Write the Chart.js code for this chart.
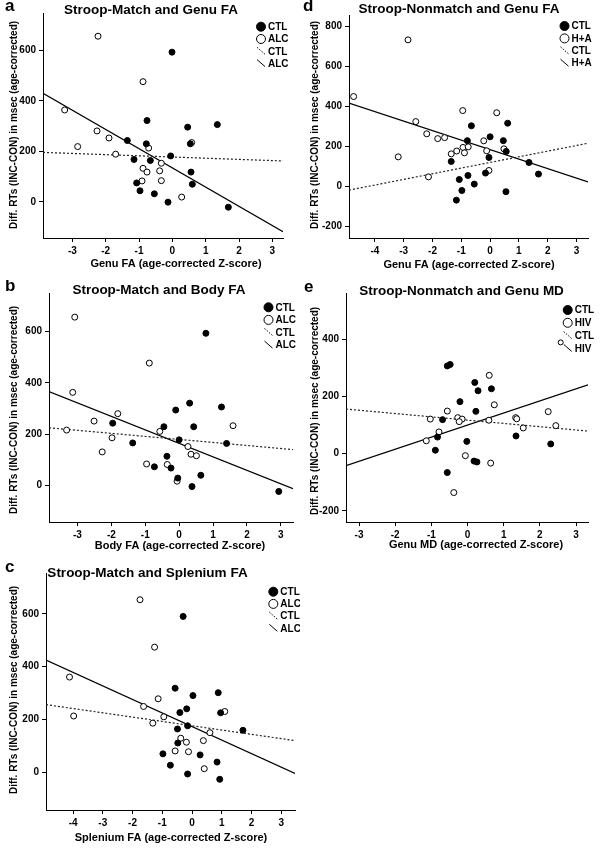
<!DOCTYPE html>
<html>
<head>
<meta charset="utf-8">
<script src="https://cdn.jsdelivr.net/npm/chart.js@4.4.0/dist/chart.umd.min.js"></script>
<style>
  body { margin: 0; background: #fff; }
  #page { position: relative; width: 600px; height: 850px; background: #fff; overflow: hidden; }
  canvas { position: absolute; }
</style>
</head>
<body>
<div id="page">
  <canvas id="chartA" width="300" height="280" style="left:0;top:0"></canvas>
  <canvas id="chartB" width="300" height="280" style="left:0;top:280px"></canvas>
  <canvas id="chartC" width="300" height="290" style="left:0;top:560px"></canvas>
  <canvas id="chartD" width="300" height="280" style="left:300px;top:0"></canvas>
  <canvas id="chartE" width="300" height="280" style="left:300px;top:280px"></canvas>
</div>
<script>
// ================================
// Datos
// ================================
const Y_TITLE = "Diff. RTs (INC-CON) in msec (age-corrected)";

// a: Stroop-Match and Genu FA
const aCtlX = [-0.01, -0.76, 0.46, 1.35, -1.35, -0.78, 0.54, -0.05, -1.15, -0.66, 0.56, -1.07, 0.60, -0.97, -0.54, -0.13, 1.68];
const aCtlY = [593, 322, 296, 306, 243, 230, 230, 182, 168, 164, 118, 75, 70, 44, 32, -1, -21];
const aAlcX = [-2.23, -0.88, -3.23, -2.26, -1.90, -2.84, -0.71, 0.58, -1.70, -0.33, -0.88, -0.76, -0.38, -0.91, -0.33, 0.28];
const aAlcY = [656, 476, 364, 281, 253, 219, 213, 235, 189, 153, 133, 118, 123, 83, 84, 19];
const aFitCtl = [[-3.88, 196], [3.32, 162]];
const aFitAlc = [[-3.88, 430], [3.32, -118]];

// b: Stroop-Match and Body FA
const bCtlX = [0.79, 0.31, 1.25, -0.10, -1.96, -0.45, 0.43, -1.37, 0.00, 1.40, -0.36, -0.24, -0.73, -0.04, 0.64, 0.38, 2.94];
const bCtlY = [593, 321, 306, 294, 243, 229, 229, 166, 178, 164, 114, 68, 73, 29, 40, -4, -23];
const bAlcX = [-0.88, -3.08, -3.14, -1.81, -2.51, -3.32, -1.98, -2.27, -0.57, 1.59, 0.26, 0.35, 0.51, -0.96, -0.35, -0.06];
const bAlcY = [477, 656, 363, 280, 251, 216, 186, 131, 211, 233, 152, 122, 116, 84, 82, 17];
const bFitCtl = [[-3.84, 225], [3.36, 140]];
const bFitAlc = [[-3.84, 366], [3.36, -12]];

// c: Stroop-Match and Splenium FA
const cCtlX = [-0.30, -0.57, 0.03, 0.88, -0.18, -0.41, 0.96, -0.15, 1.71, -0.49, -0.48, -0.98, 0.27, -0.73, 0.84, -0.15, 0.93];
const cCtlY = [590, 319, 291, 302, 241, 227, 226, 177, 160, 165, 112, 71, 67, 28, 40, -5, -25];
const cAlcX = [-1.75, -1.26, -4.12, -3.98, -1.14, -1.63, -0.95, -1.32, 1.10, 0.60, -0.38, -0.19, 0.38, -0.57, -0.12, 0.41];
const cAlcY = [653, 474, 361, 214, 279, 250, 211, 187, 231, 151, 130, 115, 121, 82, 79, 15];
const cFitCtl = [[-4.91, 257], [3.46, 121]];
const cFitAlc = [[-4.91, 425], [3.46, -3]];

// d: Stroop-Nonmatch and Genu FA
const dCtlX = [-0.65, 0.61, -0.79, 0.00, 0.46, 0.56, -0.04, -1.35, 1.35, 1.68, -0.77, -0.16, -1.07, -0.55, -0.98, 0.55, -1.17];
const dCtlY = [302, 315, 228, 247, 228, 174, 144, 124, 119, 61, 54, 66, 34, 11, -21, -27, -69];
const dHaX = [-2.85, -4.74, -0.95, 0.23, -2.58, -2.20, -1.82, -1.58, -0.22, -3.19, -2.14, -0.94, -0.76, -1.16, -0.89, -1.35, -0.12, 0.48, -0.04];
const dHaY = [731, 448, 378, 367, 323, 262, 238, 243, 227, 147, 47, 194, 197, 176, 167, 162, 177, 187, 79];
const dFitCtl = [[-4.90, -19], [3.40, 215]];
const dFitHa = [[-4.90, 415], [3.40, 22]];

// e: Stroop-Nonmatch and Genu MD
const eCtlX = [-0.56, -0.48, 0.20, 0.29, 0.66, -0.21, 0.23, -0.69, -0.83, -0.02, -0.89, 1.34, 2.30, 0.18, 0.26, -0.56];
const eCtlY = [307, 312, 249, 220, 227, 182, 148, 119, 58, 43, 12, 62, 34, -26, -29, -66];
const eHivX = [0.60, 0.74, -0.56, -1.03, -0.27, -0.15, -0.23, 0.59, 1.33, 1.36, 2.23, 2.44, 1.54, -0.79, -1.14, -0.06, 0.64, -0.38];
const eHivY = [274, 171, 149, 121, 126, 121, 112, 117, 126, 122, 147, 98, 90, 76, 45, -7, -33, -136];
const eFitCtl = [[-3.36, 156], [3.33, 79]];
const eFitHiv = [[-3.36, -42], [3.33, 241]];

// Ticks
const xTicks3 = [-3, -2, -1, 0, 1, 2, 3];
const xTicks4 = [-4, -3, -2, -1, 0, 1, 2, 3];
const yTicksMatch = [0, 200, 400, 600];
const yTicksD = [-200, 0, 200, 400, 600, 800];
const yTicksE = [-200, 0, 200, 400];

// ================================
// Utilidades
// ================================
const FONT = "Arial, 'Liberation Sans', sans-serif";
const toPts = (xs, ys) => xs.map((x, i) => ({ x, y: ys[i] }));
const toLine = pairs => pairs.map(([x, y]) => ({ x, y }));

// textos, leyenda, titulos
function decorPlugin(p) {
  return {
    id: "decor",
    afterDraw(chart) {
      const ctx = chart.ctx;
      ctx.save();
      ctx.fillStyle = "#000";
      ctx.strokeStyle = "#000";

      ctx.font = `bold 17px ${FONT}`;
      ctx.textAlign = "left";
      ctx.textBaseline = "alphabetic";
      ctx.fillText(p.letter, p.letterPos[0], p.letterPos[1]);

      ctx.font = `bold 13.5px ${FONT}`;
      ctx.textAlign = "center";
      ctx.textBaseline = "middle";
      ctx.fillText(p.title, p.titlePos[0], p.titlePos[1]);

      ctx.font = `bold 11px ${FONT}`;
      ctx.fillText(p.xTitle, p.xTitlePos[0], p.xTitlePos[1]);

      ctx.save();
      ctx.translate(p.yTitlePos[0], p.yTitlePos[1]);
      ctx.rotate(-Math.PI / 2);
      ctx.font = `bold 10px ${FONT}`;
      ctx.fillText(Y_TITLE, 0, 0);
      ctx.restore();

      // leyenda
      const [lx, ly, dy] = p.legendPos;
      ctx.font = `bold 10px ${FONT}`;
      ctx.textAlign = "left";
      ctx.lineWidth = 1;
      p.legend.forEach((label, i) => {
        const y = ly + i * dy;
        if (i === 0 || i === 1) {
          ctx.beginPath();
          ctx.arc(lx, y, 4.5, 0, Math.PI * 2);
          ctx.fillStyle = i === 0 ? "#000" : "#fff";
          ctx.fill();
          ctx.stroke();
        } else {
          ctx.beginPath();
          ctx.setLineDash(i === 2 ? [1.5, 1.5] : []);
          ctx.moveTo(lx - 4, y - 4);
          ctx.lineTo(lx + 4, y + 3);
          ctx.stroke();
          ctx.setLineDash([]);
          if (i === 3 && p.lineMarker) {
            ctx.beginPath();
            ctx.arc(lx - 7, y - 6, 2.5, 0, Math.PI * 2);
            ctx.fillStyle = "#fff";
            ctx.fill();
            ctx.stroke();
          }
        }
        ctx.fillStyle = "#000";
        ctx.fillText(label, lx + 7, y + 0.5);
      });
      ctx.restore();
    }
  };
}

// ================================
// Construccion de cada panel
// ================================
function buildPanel(canvasId, p) {
  const tickFont = { family: FONT, size: 10, weight: "bold" };
  new Chart(document.getElementById(canvasId), {
    type: "scatter",
    data: {
      datasets: [
        { data: p.ctl, pointRadius: 3, pointBackgroundColor: "#000", pointBorderColor: "#000", pointBorderWidth: 1 },
        { data: p.grp, pointRadius: 3, pointBackgroundColor: "#fff", pointBorderColor: "#000", pointBorderWidth: 1 },
        { data: p.fitCtl, showLine: true, pointRadius: 0, borderColor: "#222", borderWidth: 1.2, borderDash: [2, 2] },
        { data: p.fitGrp, showLine: true, pointRadius: 0, borderColor: "#000", borderWidth: 1.2 }
      ]
    },
    options: {
      responsive: false,
      animation: false,
      devicePixelRatio: 1,
      layout: { padding: { left: 0, top: p.area.top, right: p.area.right, bottom: 0 } },
      plugins: { legend: { display: false }, tooltip: { enabled: false } },
      scales: {
        x: {
          type: "linear",
          min: p.xRange[0], max: p.xRange[1],
          afterBuildTicks: s => { s.ticks = p.xTicks.map(v => ({ value: v })); },
          afterFit: s => { s.height = p.area.xh; },
          ticks: { font: tickFont, color: "#000", maxRotation: 0, autoSkip: false, padding: 3 },
          grid: { drawOnChartArea: false, drawTicks: true, tickLength: 4, color: "#000" },
          border: { display: true, color: "#000", width: 1 }
        },
        y: {
          type: "linear",
          min: p.yRange[0], max: p.yRange[1],
          afterBuildTicks: s => { s.ticks = p.yTicks.map(v => ({ value: v })); },
          afterFit: s => { s.width = p.area.left; },
          ticks: { font: tickFont, color: "#000", autoSkip: false, padding: 3 },
          grid: { drawOnChartArea: false, drawTicks: true, tickLength: 4, color: "#000" },
          border: { display: true, color: "#000", width: 1 }
        }
      }
    },
    plugins: [decorPlugin(p)]
  });
}

buildPanel("chartA", {
  ctl: toPts(aCtlX, aCtlY), grp: toPts(aAlcX, aAlcY),
  fitCtl: toLine(aFitCtl), fitGrp: toLine(aFitAlc),
  xRange: [-3.88, 3.32], yRange: [-143, 748], xTicks: xTicks3, yTicks: yTicksMatch,
  area: { left: 43, top: 13, right: 17, xh: 42 },
  letter: "a", letterPos: [5, 11], title: "Stroop-Match and Genu FA", titlePos: [151, 10],
  xTitle: "Genu FA (age-corrected Z-score)", xTitlePos: [176, 264], yTitlePos: [14, 125],
  legend: ["CTL", "ALC", "CTL", "ALC"], legendPos: [261, 26.7, 12.3]
});

buildPanel("chartB", {
  ctl: toPts(bCtlX, bCtlY), grp: toPts(bAlcX, bAlcY),
  fitCtl: toLine(bFitCtl), fitGrp: toLine(bFitAlc),
  xRange: [-3.84, 3.36], yRange: [-142, 750], xTicks: xTicks3, yTicks: yTicksMatch,
  area: { left: 49, top: 13, right: 7, xh: 38 },
  letter: "b", letterPos: [5, 11], title: "Stroop-Match and Body FA", titlePos: [159, 10],
  xTitle: "Body FA (age-corrected Z-score)", xTitlePos: [180, 266], yTitlePos: [14, 130],
  legend: ["CTL", "ALC", "CTL", "ALC"], legendPos: [268.5, 27.3, 12.6]
});

buildPanel("chartC", {
  ctl: toPts(cCtlX, cCtlY), grp: toPts(cAlcX, cAlcY),
  fitCtl: toLine(cFitCtl), fitGrp: toLine(cFitAlc),
  xRange: [-4.91, 3.46], yRange: [-141, 754], xTicks: xTicks4, yTicks: yTicksMatch,
  area: { left: 46, top: 13, right: 0, xh: 40 },
  letter: "c", letterPos: [5, 12], title: "Stroop-Match and Splenium FA", titlePos: [147.5, 13],
  xTitle: "Splenium FA (age-corrected Z-score)", xTitlePos: [171, 278], yTitlePos: [14, 130],
  legend: ["CTL", "ALC", "CTL", "ALC"], legendPos: [273.3, 31.7, 12.2]
});

buildPanel("chartD", {
  ctl: toPts(dCtlX, dCtlY), grp: toPts(dHaX, dHaY),
  fitCtl: toLine(dFitCtl), fitGrp: toLine(dFitHa),
  xRange: [-4.90, 3.40], yRange: [-258, 855], xTicks: xTicks4, yTicks: yTicksD,
  area: { left: 49, top: 15, right: 12, xh: 42 },
  letter: "d", letterPos: [3, 11], title: "Stroop-Nonmatch and Genu FA", titlePos: [159, 9.5],
  xTitle: "Genu FA (age-corrected Z-score)", xTitlePos: [169, 265], yTitlePos: [15, 125],
  legend: ["CTL", "H+A", "CTL", "H+A"], legendPos: [264.5, 26, 12.4]
});

buildPanel("chartE", {
  ctl: toPts(eCtlX, eCtlY), grp: toPts(eHivX, eHivY),
  fitCtl: toLine(eFitCtl), fitGrp: toLine(eFitHiv),
  xRange: [-3.36, 3.33], yRange: [-239, 562], xTicks: xTicks3, yTicks: yTicksE,
  area: { left: 46, top: 13, right: 12, xh: 38 },
  letter: "e", letterPos: [4, 12], title: "Stroop-Nonmatch and Genu MD", titlePos: [161.5, 11.7],
  xTitle: "Genu MD (age-corrected Z-score)", xTitlePos: [176, 265], yTitlePos: [15, 131],
  legend: ["CTL", "HIV", "CTL", "HIV"], legendPos: [267.7, 30, 12.8], lineMarker: true
});
</script>
</body>
</html>
